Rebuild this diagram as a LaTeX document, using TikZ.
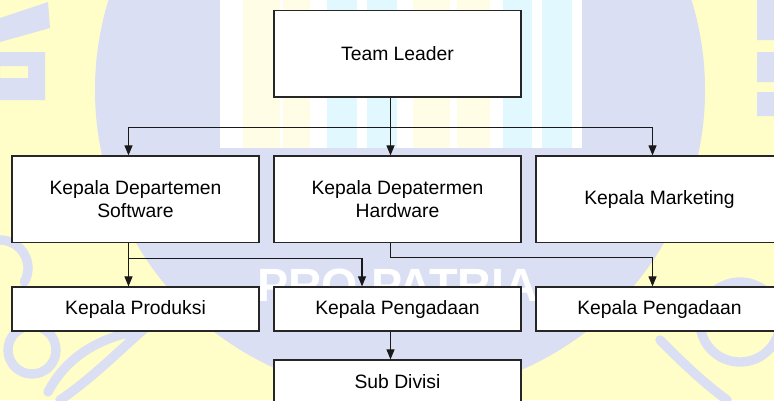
\documentclass[tikz,border=0pt]{standalone}
\usepackage{fontspec}
\setmainfont{Liberation Sans}
\usetikzlibrary{arrows.meta,calc}
\definecolor{wmyellow}{HTML}{FFFDC8}
\definecolor{wmlav}{HTML}{DADFF3}
\definecolor{wmcyan}{HTML}{E2F8FF}
\definecolor{wmpale}{HTML}{FFFDE6}
\begin{document}
\begin{tikzpicture}[x=0.75pt,y=-0.75pt,
  big/.style={draw=black!85,line width=0.9pt,fill=white,minimum width=185.25pt,minimum height=64.9pt,align=center,font=\fontsize{14.5pt}{17.3pt}\selectfont,inner sep=0pt},
  small/.style={big,minimum height=33pt},
  arr/.style={-{Triangle[length=7.5pt,width=6pt]},line width=0.8pt,draw=black!90},
  wmline/.style={draw=wmlav,line width=7pt,line cap=round}]
\useasboundingbox (0,0) rectangle (774,400);
\clip (0,0) rectangle (774,400);
% watermark background
\fill[wmyellow] (0,0) rectangle (774,400);
\fill[wmlav] (400,90) circle[radius=305];
\fill[white] (220,0) rectangle (582,148);
\foreach \a/\b in {243/280,283/310,413/450,457/490}{\fill[wmpale] (\a,0) rectangle (\b,148);}
\foreach \a/\b in {327/357,367/397,503/532,542/572}{\fill[wmcyan] (\a,0) rectangle (\b,148);}
% side letter shapes of the watermark
\fill[wmlav] (0,18) -- (48,2) -- (50,28) -- (0,42) -- cycle;
\fill[wmlav, even odd rule] (0,52) rectangle (45,100) (0,66) rectangle (28,78);
\fill[wmlav] (757,0) rectangle (774,40) (757,52) rectangle (774,82) (757,92) rectangle (774,116);
% drop shapes of the watermark
\draw[wmline] (0,240) arc[start angle=-90,end angle=30,radius=28];
\draw[wmline] (32,350) circle[radius=24];
\draw[wmline] (48,392) .. controls (70,350) and (110,335) .. (143,330) .. controls (120,350) and (90,380) .. (60,400);
\draw[wmline] (740,322) circle[radius=40];
\draw[wmline] (660,340) .. controls (680,360) and (700,380) .. (727,400);
% faint watermark title
\node[text=white,font=\fontsize{35pt}{35pt}\bfseries\selectfont,anchor=base,inner sep=0pt] (wm) at (397.5,301) {PRO PATRIA};
% boxes
\node[big] (tl) at (397.5,53.75) {Team Leader};
\node[big] (r2a) at (135.5,199.25) {Kepala Departemen\\Software};
\node[big] (r2b) at (397.5,199.25) {Kepala Depatermen\\Hardware};
\node[big] (r2c) at (659.5,199.25) {Kepala Marketing};
\node[small] (r3a) at (135.5,309) {Kepala Produksi};
\node[small] (r3b) at (397.5,309) {Kepala Pengadaan};
\node[small] (r3c) at (659.5,309) {Kepala Pengadaan};
\node[small] (sub) at (397.5,382) {Sub Divisi};
% connectors
\coordinate (bus) at ($(tl.south)+(-7,30)$);
\draw[arr] ($(tl.south)+(-7,0)$) -- ($(r2b.north)+(-7,0)$);
\draw[arr] (bus) -| ($(r2a.north)+(-7,0)$);
\draw[arr] (bus) -| ($(r2c.north)+(-7,0)$);
\coordinate (ja) at ($(r2a.south)+(-7,15)$);
\draw[arr] ($(r2a.south)+(-7,0)$) -- ($(r3a.north)+(-7,0)$);
\draw[arr] (ja) -| ($(r3b.north)+(-35.5,0)$);
\draw[arr] ($(r2b.south)+(-7,0)$) |- ($(r2b.south)+(0,14)$) -| ($(r3c.north)+(-7,0)$);
\draw[arr] ($(r3b.south)+(-7,0)$) -- ($(sub.north)+(-7,0)$);
\end{tikzpicture}
\end{document}
